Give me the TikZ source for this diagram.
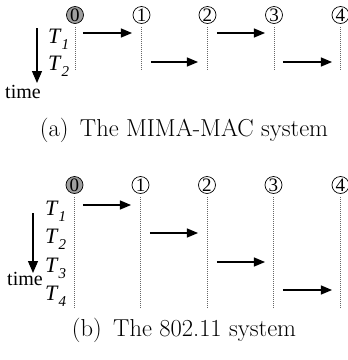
\documentclass[tikz,border=0pt]{standalone}
\usepackage{fontspec}
\newfontfamily\timesfont{Liberation Serif}
\usetikzlibrary{arrows.meta}
\tikzset{
  stage/.style={circle, draw, line width=0.7pt, minimum size=17pt, inner sep=0pt,
                font=\timesfont\fontsize{19}{19}\selectfont},
  startstage/.style={stage, fill=gray!75},
  slot/.style={draw=gray!80!black, line width=0.7pt, dash pattern=on 1pt off 1pt},
  tx/.style={line width=1.1pt, -{Triangle[length=11pt,width=9pt]}},
  timeaxis/.style={line width=1.2pt, -{Triangle[length=12pt,width=10pt]}},
  tlabel/.style={anchor=base west, inner sep=0pt, font=\timesfont\fontsize{22}{22}\selectfont},
  timelabel/.style={anchor=base west, inner sep=0pt, font=\timesfont\fontsize{20}{20}\selectfont},
  caption/.style={anchor=base, inner sep=0pt, font=\fontsize{24.5}{24.5}\selectfont},
}
\newcommand{\tsub}[2]{\textit{#1}\raisebox{-0.3em}{\fontsize{15}{15}\selectfont\textit{#2}}}
\begin{document}
\begin{tikzpicture}[x=1pt, y=-1pt]
\useasboundingbox (0,0) rectangle (348,360);

% ---- (a) MIMA-MAC ----
\node[startstage] (a0) at (75,15) {0};
\node[stage] (a1) at (141.5,15) {1};
\node[stage] (a2) at (207.5,15) {2};
\node[stage] (a3) at (274,15) {3};
\node[stage] (a4) at (340.5,15) {4};
\foreach \i in {0,...,4} {
  \coordinate (ae\i) at ([yshift=-46pt]a\i.south);
  \draw[slot] ([yshift=-3pt]a\i.south) -- (ae\i);
}
\coordinate (ar1s) at (83,33);  \coordinate (ar1e) at (132,33);
\coordinate (ar2s) at (151,62); \coordinate (ar2e) at (198,62);
\coordinate (ar3s) at (217,33); \coordinate (ar3e) at (265,33);
\coordinate (ar4s) at (283,62); \coordinate (ar4e) at (332,62);
\foreach \k in {1,...,4} \draw[tx] (ar\k s) -- (ar\k e);
\node[tlabel] (aT1) at (48,43) {\tsub{T}{1}};
\node[tlabel] (aT2) at (48,70) {\tsub{T}{2}};
\coordinate (at0) at (37,28);
\coordinate (at1) at (37,83);
\draw[timeaxis] (at0) -- (at1);
\node[timelabel] (atime) at (5,98) {time};
\node[caption] (capa) at (184,136) {(a)\, The MIMA-MAC system};

% ---- (b) 802.11 ----
\node[startstage] (b0) at (74.5,185) {0};
\node[stage] (b1) at (140.5,185) {1};
\node[stage] (b2) at (207,185) {2};
\node[stage] (b3) at (273.5,185) {3};
\node[stage] (b4) at (340.5,185) {4};
\foreach \i in {0,...,4} {
  \coordinate (be\i) at ([yshift=-114pt]b\i.south);
  \draw[slot] ([yshift=-3pt]b\i.south) -- (be\i);
}
\coordinate (br1s) at (83,205);  \coordinate (br1e) at (131,205);
\coordinate (br2s) at (150,233); \coordinate (br2e) at (198,233);
\coordinate (br3s) at (217,262); \coordinate (br3e) at (265,262);
\coordinate (br4s) at (283,290); \coordinate (br4e) at (332,290);
\foreach \k in {1,...,4} \draw[tx] (br\k s) -- (br\k e);
\node[tlabel] (bT1) at (45,215) {\tsub{T}{1}};
\node[tlabel] (bT2) at (45,243) {\tsub{T}{2}};
\node[tlabel] (bT3) at (45,272) {\tsub{T}{3}};
\node[tlabel] (bT4) at (45,300) {\tsub{T}{4}};
\coordinate (bt0) at (33,213);
\coordinate (bt1) at (33,273);
\draw[timeaxis] (bt0) -- (bt1);
\node[timelabel] (btime) at (7,285) {time};
\node[caption] (capb) at (184,336) {(b)\, The 802.11 system};
\end{tikzpicture}
\end{document}
